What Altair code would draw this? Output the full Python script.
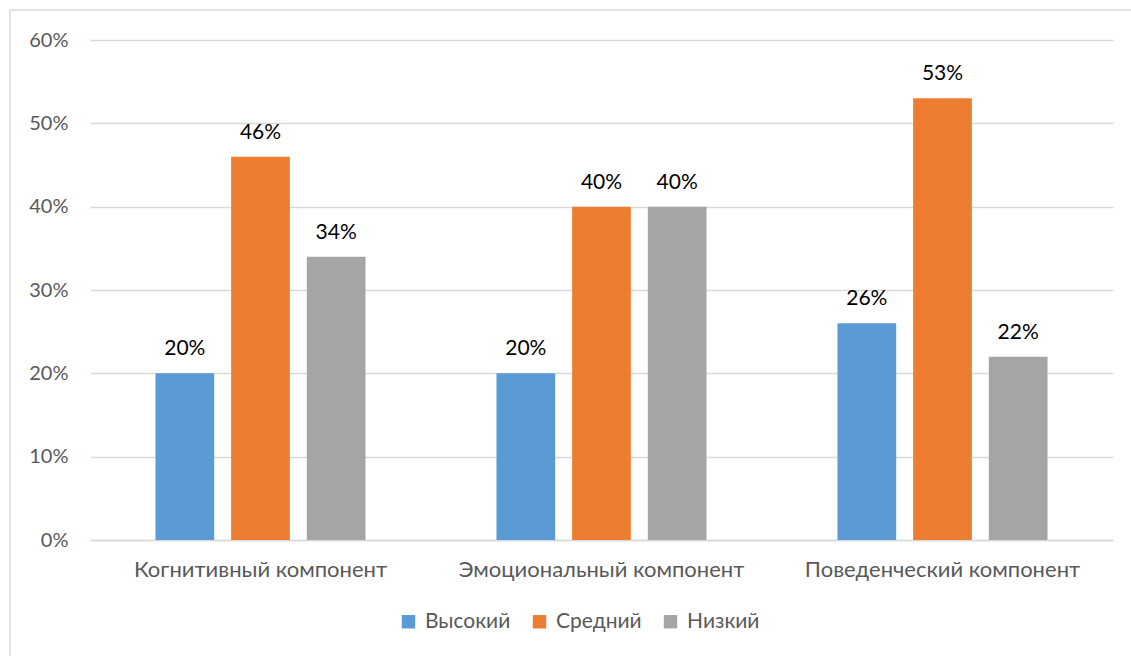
import altair as alt
import pandas as pd

categories = ["Когнитивный компонент", "Эмоциональный компонент", "Поведенческий компонент"]
levels = ["Высокий", "Средний", "Низкий"]
high = [0.20, 0.20, 0.26]
mid = [0.46, 0.40, 0.53]
low = [0.34, 0.40, 0.22]
colors = ["#5B9BD5", "#ED7D31", "#A5A5A5"]

rows = []
for i, c in enumerate(categories):
    for lv, vals in zip(levels, [high, mid, low]):
        rows.append({"cat": c, "level": lv, "value": vals[i]})
df = pd.DataFrame(rows)

FONT = "Lato"

x = alt.X("cat:N", sort=categories, title=None,
          scale=alt.Scale(paddingInner=0.384, paddingOuter=0.192),
          axis=alt.Axis(labelAngle=0, labelFontSize=22, labelColor="#595959", labelFont=FONT,
                        labelPadding=19, labelLimit=400, domain=True, domainColor="#d9d9d9",
                        domainWidth=1.5, ticks=False, grid=False))
xo = alt.XOffset("level:N", sort=levels, scale=alt.Scale(paddingInner=0.224, paddingOuter=0))
y = alt.Y("value:Q", title=None,
          scale=alt.Scale(domain=[0, 0.6], nice=False),
          axis=alt.Axis(format=".0%", values=[0, 0.1, 0.2, 0.3, 0.4, 0.5, 0.6],
                        labelFontSize=20, labelColor="#595959", labelFont=FONT,
                        labelPadding=22, domain=False, ticks=False,
                        gridColor="#d9d9d9", gridWidth=1.3))

bars = alt.Chart(df).mark_bar().encode(
    x=x, xOffset=xo, y=y,
    color=alt.Color("level:N", sort=levels,
                    scale=alt.Scale(domain=levels, range=colors),
                    legend=alt.Legend(title=None, orient="none", direction="horizontal",
                                      legendX=308, legendY=571, symbolType="square",
                                      symbolSize=180, symbolStrokeWidth=0,
                                      labelFontSize=21, labelColor="#595959", labelFont=FONT,
                                      columnPadding=18, labelOffset=6)),
)

labels = alt.Chart(df).mark_text(baseline="bottom", dy=-14, fontSize=21, color="#000000", font=FONT).encode(
    x=alt.X("cat:N", sort=categories), xOffset=alt.XOffset("level:N", sort=levels), y="value:Q",
    text=alt.Text("value:Q", format=".0%"),
)

frame = alt.Chart(pd.DataFrame({"a": [0]})).mark_rect(fill=None, stroke="#d9d9d9", strokeWidth=1.5).encode(
    x=alt.value(-80), x2=alt.value(1060), y=alt.value(-30), y2=alt.value(640),
)

chart = alt.layer(frame, bars, labels).properties(
    width=1023, height=500,
    autosize=alt.AutoSizeParams(type="none"),
    padding={"left": 90, "top": 40, "right": 18, "bottom": 116},
).configure_view(stroke=None)

chart.save("out.html", embed_options={"renderer": "svg", "actions": False})
